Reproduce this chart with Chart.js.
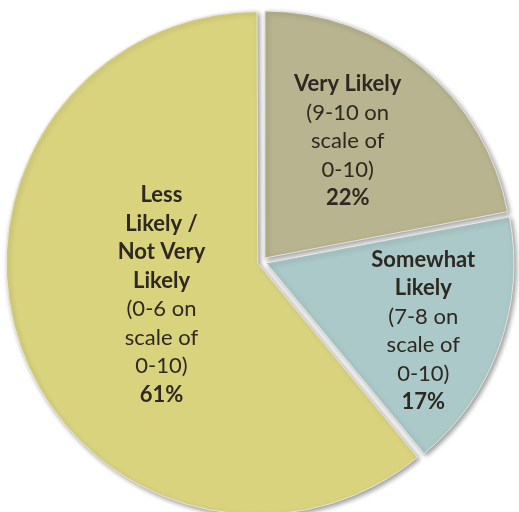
<!DOCTYPE html>
<html>
<head>
<meta charset="utf-8">
<script src="https://cdn.jsdelivr.net/npm/chart.js@4"></script>
<style>
  html, body { margin: 0; padding: 0; background: #fff; }
  #wrap { width: 519px; height: 512px; position: relative; }
</style>
</head>
<body>
<div id="wrap"><canvas id="pie"></canvas></div>
<script>
// chart data
const categories = [['Very Likely'], ['Somewhat', 'Likely'], ['Less', 'Likely /', 'Not Very', 'Likely']];
const scaleNotes = [['(9-10 on', 'scale of', '0-10)'], ['(7-8 on', 'scale of', '0-10)'], ['(0-6 on', 'scale of', '0-10)']];
const percents = [22, 17, 61];
const sliceColors = ['#b8b48f', '#acc9c9', '#dad37e'];

// where each label block sits, relative to the pie centre, in units of the radius
const labelSpots = [[0.347, -0.488], [0.653, 0.282], [-0.407, 0.135]];
const lineHeight = 28.5;
const textColor = '#2e2920';
const fontFamily = 'Lato, "Open Sans", sans-serif';

const shadowPlugin = {
    id: 'shadow',
    beforeDatasetsDraw(chart) {
        const ctx = chart.ctx;
        ctx.save();
        ctx.shadowColor = 'rgba(0, 0, 0, 0.4)';
        ctx.shadowBlur = 5;
        ctx.shadowOffsetX = 2;
        ctx.shadowOffsetY = 2;
    },
    afterDatasetsDraw(chart) {
        chart.ctx.restore();
    }
};

const labelPlugin = {
    id: 'sliceLabels',
    afterDraw(chart) {
        const ctx = chart.ctx;
        const arcs = chart.getDatasetMeta(0).data;
        arcs.forEach((arc, i) => {
            const r = arc.outerRadius;
            const cx = arc.x + labelSpots[i][0] * r;
            const cy = arc.y + labelSpots[i][1] * r;
            const lines = [];
            categories[i].forEach(t => lines.push({ t, bold: true }));
            scaleNotes[i].forEach(t => lines.push({ t, bold: false }));
            lines.push({ t: percents[i] + '%', bold: true });

            ctx.save();
            ctx.fillStyle = textColor;
            ctx.textAlign = 'center';
            ctx.textBaseline = 'middle';
            const top = cy - (lines.length - 1) * lineHeight / 2;
            lines.forEach((ln, k) => {
                ctx.font = `${ln.bold ? 'bold ' : ''}22px ${fontFamily}`;
                ctx.fillText(ln.t, cx, top + k * lineHeight);
            });
            ctx.restore();
        });
    }
};

new Chart(document.getElementById('pie'), {
    type: 'pie',
    data: {
        labels: categories.map(c => c.join(' ')),
        datasets: [{
            data: percents,
            backgroundColor: sliceColors,
            borderColor: 'rgba(235, 235, 230, 0.9)',
            borderWidth: 1,
            offset: 18
        }]
    },
    options: {
        responsive: true,
        maintainAspectRatio: false,
        animation: false,
        radius: 247,
        layout: { padding: { left: 11, right: 6, top: 11, bottom: 0 } },
        plugins: {
            legend: { display: false },
            tooltip: { enabled: false }
        }
    },
    plugins: [shadowPlugin, labelPlugin]
});
</script>
</body>
</html>
